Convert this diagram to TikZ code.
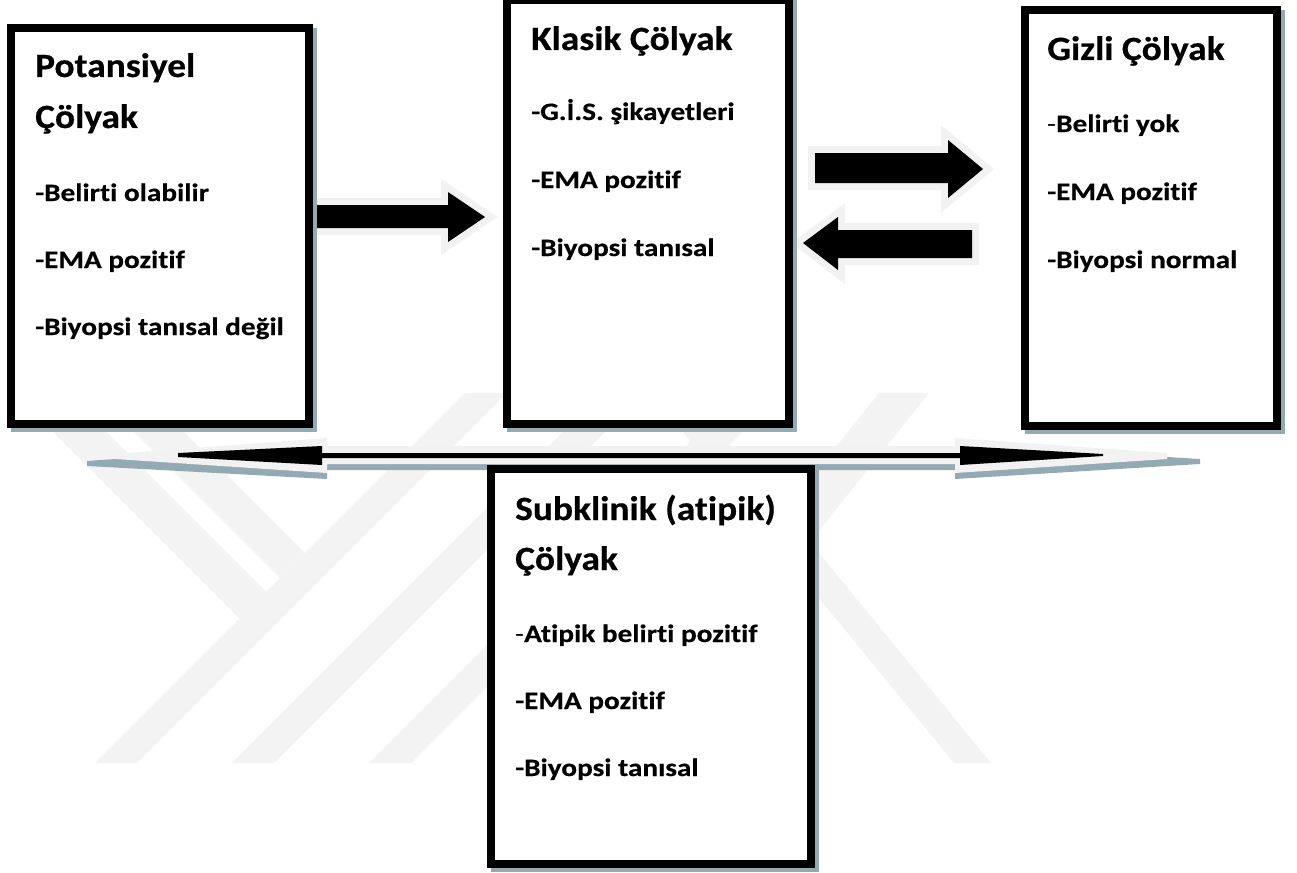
\documentclass[tikz,border=0pt]{standalone}
\usepackage{fontspec}
\setmainfont{Carlito}[Ligatures=NoCommon]
\newfontfamily\titlefont{Carlito}[FakeStretch=1.10, Ligatures=NoCommon, BoldFeatures={FakeBold=0.5}]
\newfontfamily\itemfont{Carlito}[FakeStretch=1.17, Ligatures=NoCommon, BoldFeatures={FakeBold=0.5}]
\usetikzlibrary{shadows}

\definecolor{rimgray}{HTML}{F2F2F2}
\definecolor{shadowblue}{HTML}{93AAB3}
\definecolor{markgray}{HTML}{F3F3F3}

\tikzset{
  formbox/.style={draw=black, line width=8pt, fill=white, inner sep=0pt,
    drop shadow={shadow xshift=4pt, shadow yshift=-4pt, fill=shadowblue, draw=shadowblue, opacity=1}},
  title/.style={font=\titlefont\fontsize{34}{40}\selectfont\bfseries, anchor=base west, inner sep=0pt},
  item/.style={font=\itemfont\fontsize{25}{30}\selectfont\bfseries, anchor=base west, inner sep=0pt},
  blockarrow/.style={draw=rimgray, fill=rimgray, line width=14pt,
    drop shadow={shadow xshift=3pt, shadow yshift=-5pt, fill=shadowblue, draw=shadowblue, opacity=1},
    postaction={fill=black}},
  wmband/.style={fill=markgray, draw=none}
}

\begin{document}
\begin{tikzpicture}[x=1pt, y=-1pt]
\useasboundingbox (0,0) rectangle (1297,872);

% filigran (arka plan)
\fill[wmband] (95,763) -- (137,763) -- (507,393) -- (465,393) -- cycle;
\fill[wmband] (232,763) -- (274,763) -- (644,393) -- (602,393) -- cycle;
\fill[wmband] (369,763) -- (411,763) -- (781,393) -- (739,393) -- cycle;
\fill[wmband] (14,393) -- (68,393) -- (287.5,612.5) -- (260.5,639.5) -- cycle;
\fill[wmband] (95,393) -- (145,393) -- (305,553) -- (280,578) -- cycle;
\fill[wmband] (651,393) -- (688,393) -- (991,763) -- (954,763) -- cycle;
\fill[wmband] (879,393) -- (929,393) -- (633,763) -- (583,763) -- cycle;

% blok oklar
\path[blockarrow] (310,205) -- (448,205) -- (448,192) -- (485,217) -- (448,242) -- (448,228) -- (310,228) -- cycle;
\path[blockarrow] (815,153) -- (948,153) -- (948,140) -- (983,169) -- (948,198) -- (948,183) -- (815,183) -- cycle;
\path[blockarrow] (972,230) -- (838,230) -- (838,217) -- (803,243) -- (838,270) -- (838,258) -- (972,258) -- cycle;

% alt cift yonlu ok
\fill[shadowblue] (87,461) -- (327,444) -- (327,452) -- (955,452) -- (955,444) -- (1200,459) -- (1200,464)
  -- (955,479) -- (955,470) -- (327,470) -- (327,479) -- (87,466) -- cycle;
\fill[rimgray] (115,454) -- (327,438) -- (327,446) -- (955,446) -- (955,438) -- (1167,453) -- (1167,459)
  -- (955,473) -- (955,464) -- (327,464) -- (327,473) -- (115,459) -- cycle;
\fill[black] (178,453) -- (322,446) -- (322,453) -- (960,453) -- (960,446) -- (1103,454) -- (1103,456)
  -- (960,465) -- (960,458) -- (322,458) -- (322,465) -- (178,457) -- cycle;

% kutular
\node[formbox, minimum width=298pt, minimum height=396pt] (potansiyel) at (160,226) {};
\node[formbox, minimum width=282pt, minimum height=424pt] (klasik) at (648,212) {};
\node[formbox, minimum width=252pt, minimum height=416pt] (gizli) at (1151,218) {};
\node[formbox, minimum width=320pt, minimum height=395pt] (subklinik) at (651,666.5) {};

% Potansiyel
\node[title] (pot-t1) at (35,77) {Potansiyel};
\node[title] (pot-t2) at (35,128) {Çölyak};
\foreach \t [count=\i] in {-Belirti olabilir, -EMA pozitif, -Biyopsi tanısal değil}
  \node[item] (pot-\i) at (35,134+67*\i) {\t};

% Klasik
\node[title] (kla-t1) at (531,50) {Klasik Çölyak};
\foreach \t [count=\i] in {-G.İ.S. şikayetleri, -EMA pozitif, -Biyopsi tanısal}
  \node[item] (kla-\i) at (531,52+68*\i) {\t};

% Gizli
\node[title] (giz-t1) at (1047,60) {Gizli Çölyak};
\foreach \t [count=\i] in {{\mdseries-}Belirti yok, -EMA pozitif, -Biyopsi normal}
  \node[item] (giz-\i) at (1047,64+68*\i) {\t};

% Subklinik
\node[title] (sub-t1) at (515,520) {Subklinik (atipik)};
\node[title] (sub-t2) at (515,570) {Çölyak};
\foreach \t [count=\i] in {{\mdseries-}Atipik belirti pozitif, -EMA pozitif, -Biyopsi tanısal}
  \node[item] (sub-\i) at (515,575+67*\i) {\t};
\end{tikzpicture}
\end{document}
